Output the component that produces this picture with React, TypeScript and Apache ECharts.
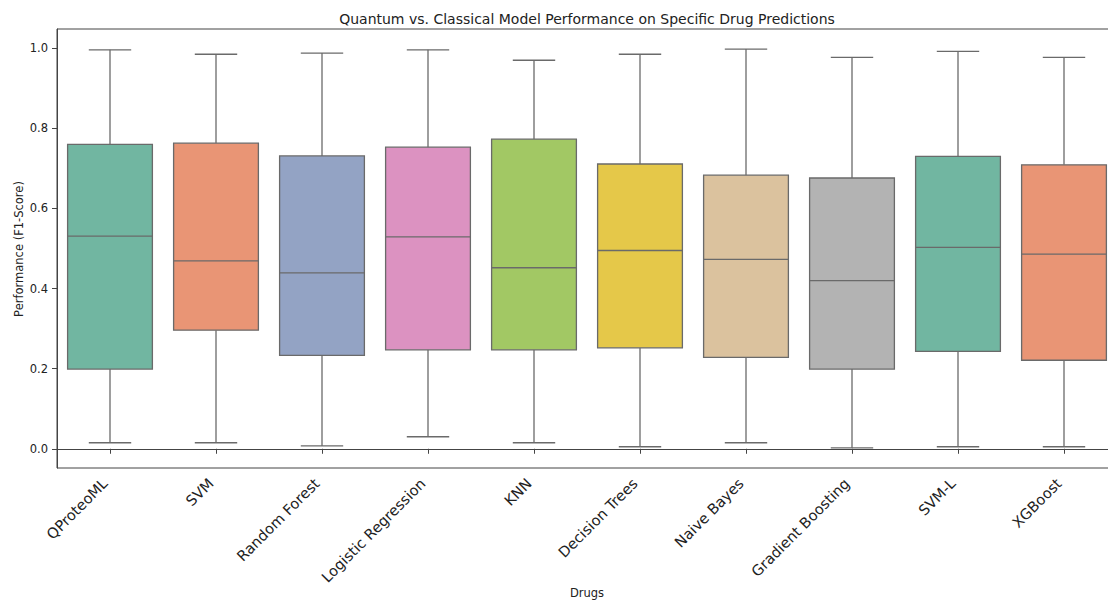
import React, { useEffect, useRef } from "react";
import * as echarts from "echarts";

const categories = [
  "QProteoML",
  "SVM",
  "Random Forest",
  "Logistic Regression",
  "KNN",
  "Decision Trees",
  "Naive Bayes",
  "Gradient Boosting",
  "SVM-L",
  "XGBoost",
];
const whiskerLow = [0.015, 0.015, 0.007, 0.03, 0.015, 0.005, 0.015, 0.002, 0.005, 0.005];
const q1 = [0.199, 0.296, 0.233, 0.247, 0.247, 0.252, 0.228, 0.199, 0.243, 0.221];
const medians = [0.531, 0.469, 0.439, 0.529, 0.452, 0.495, 0.473, 0.42, 0.503, 0.486];
const q3 = [0.76, 0.763, 0.731, 0.753, 0.773, 0.711, 0.683, 0.676, 0.73, 0.709];
const whiskerHigh = [0.996, 0.985, 0.988, 0.996, 0.97, 0.985, 0.998, 0.977, 0.992, 0.977];
const yTicks = [0, 0.2, 0.4, 0.6, 0.8, 1.0];

const palette = [
  "#71b6a1",
  "#e99575",
  "#93a3c4",
  "#dc92c1",
  "#a2c864",
  "#e5c849",
  "#dbc29e",
  "#b3b3b3",
  "#71b6a1",
  "#e99575",
];

const LINE = "#6a6a6a";
const FONT = "DejaVu Sans";

export default function App() {
  const ref = useRef<HTMLDivElement>(null);
  useEffect(() => {
    if (!ref.current) return;
    const chart = echarts.init(ref.current, null, { renderer: "svg" });
    const data = categories.map((_, i) => [i, whiskerLow[i], q1[i], medians[i], q3[i], whiskerHigh[i]]);
    chart.setOption({
      animation: false,
      backgroundColor: "#ffffff",
      grid: {
        left: 57,
        top: 29,
        width: 1060,
        height: 439,
        show: true,
        borderColor: "#444",
        borderWidth: 1,
        containLabel: false,
        outerBoundsMode: "none",
      },
      graphic: [
        {
          type: "text",
          x: 587,
          y: 19,
          style: {
            text: "Quantum vs. Classical Model Performance on Specific Drug Predictions",
            font: `14px "${FONT}"`,
            fill: "#222",
            align: "center",
            verticalAlign: "middle",
          },
        },
        {
          type: "text",
          x: 19,
          y: 249,
          rotation: Math.PI / 2,
          style: {
            text: "Performance (F1-Score)",
            font: `11.5px "${FONT}"`,
            fill: "#222",
            align: "center",
            verticalAlign: "middle",
          },
        },
        {
          type: "text",
          x: 587,
          y: 593,
          style: {
            text: "Drugs",
            font: `11.5px "${FONT}"`,
            fill: "#222",
            align: "center",
            verticalAlign: "middle",
          },
        },
      ],
      xAxis: {
        type: "category",
        data: categories,
        boundaryGap: true,
        axisLine: { show: true, lineStyle: { color: "#444", width: 1 } },
        axisTick: { show: true, alignWithLabel: true, length: 5, lineStyle: { color: "#444" } },
        axisLabel: {
          rotate: 45,
          interval: 0,
          margin: 18,
          verticalAlign: "bottom",
          fontFamily: FONT,
          fontSize: 14.6,
          color: "#222",
        },
        splitLine: { show: false },
      },
      yAxis: {
        type: "value",
        min: -0.048,
        max: 1.048,
        axisLine: { show: true, lineStyle: { color: "#444", width: 1 } },
        axisTick: { show: true, length: 5, customValues: yTicks, lineStyle: { color: "#444" } },
        axisLabel: {
          customValues: yTicks,
          margin: 9,
          fontFamily: FONT,
          fontSize: 11.5,
          color: "#222",
          formatter: (v: number) => v.toFixed(1),
        },
        splitLine: { show: false },
      },
      series: [
        {
          type: "custom",
          data,
          encode: { x: 0, y: [1, 2, 3, 4, 5] },
          renderItem: (params: any, api: any) => {
            const i = api.value(0);
            const band = api.size([1, 0])[0];
            const bw = band * 0.8;
            const cw = bw * 0.5;
            const pLo = api.coord([i, api.value(1)]);
            const pQ1 = api.coord([i, api.value(2)]);
            const pMed = api.coord([i, api.value(3)]);
            const pQ3 = api.coord([i, api.value(4)]);
            const pHi = api.coord([i, api.value(5)]);
            const cx = pMed[0];
            const lineStyle = { stroke: LINE, lineWidth: 1.3 };
            return {
              type: "group",
              children: [
                { type: "line", shape: { x1: cx, y1: pLo[1], x2: cx, y2: pQ1[1] }, style: lineStyle },
                { type: "line", shape: { x1: cx, y1: pQ3[1], x2: cx, y2: pHi[1] }, style: lineStyle },
                { type: "line", shape: { x1: cx - cw / 2, y1: pLo[1], x2: cx + cw / 2, y2: pLo[1] }, style: lineStyle },
                { type: "line", shape: { x1: cx - cw / 2, y1: pHi[1], x2: cx + cw / 2, y2: pHi[1] }, style: lineStyle },
                {
                  type: "rect",
                  shape: { x: cx - bw / 2, y: pQ3[1], width: bw, height: pQ1[1] - pQ3[1] },
                  style: { fill: palette[params.dataIndex % palette.length], stroke: LINE, lineWidth: 1.3 },
                },
                { type: "line", shape: { x1: cx - bw / 2, y1: pMed[1], x2: cx + bw / 2, y2: pMed[1] }, style: lineStyle },
              ],
            };
          },
        },
      ],
    });
    return () => chart.dispose();
  }, []);
  return (
    <div
      ref={ref}
      style={{ position: "absolute", left: 0, top: 0, width: 1108, height: 601, background: "#fff" }}
    />
  );
}
